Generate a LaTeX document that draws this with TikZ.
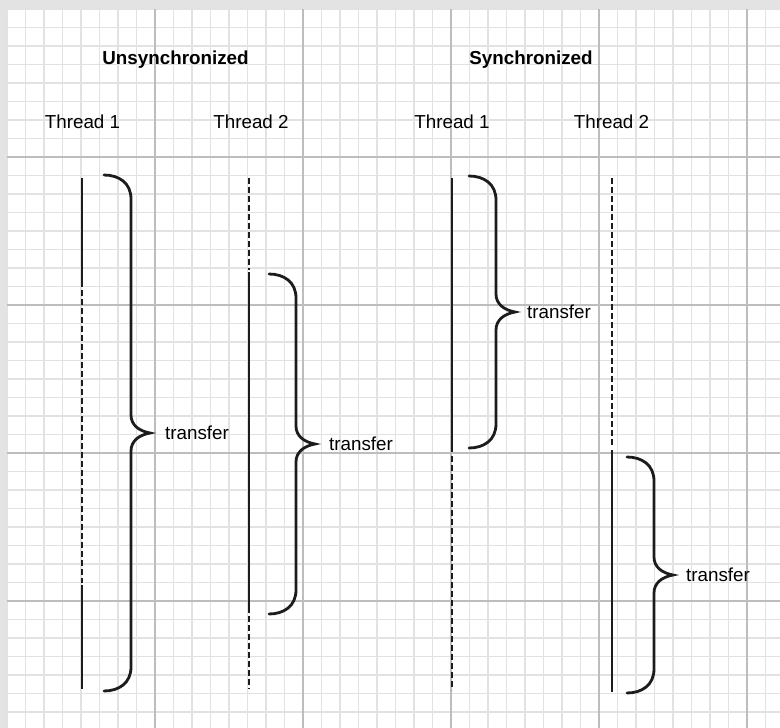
\documentclass[tikz,border=0pt]{standalone}
\usepackage{fontspec}
\setmainfont{Liberation Sans}
\usetikzlibrary{positioning}

\definecolor{minorgrid}{HTML}{E2E2E2}
\definecolor{majorgrid}{HTML}{BDBDBD}
\definecolor{ink}{HTML}{1C1C1C}

% #1 = x of the brace's spine, #2 = top, #3 = bottom, #4 = name of the tip
\newcommand{\xferbrace}[4]{%
  \draw[brace] ({#1-27},#2) .. controls ({#1-12},#2) and (#1,{#2+8}) .. (#1,{#2+24})
    -- (#1,{(#2+#3)/2-18}) .. controls (#1,{(#2+#3)/2-8}) and ({#1+8},{(#2+#3)/2-2}) .. ({#1+19},{(#2+#3)/2})
    .. controls ({#1+8},{(#2+#3)/2+2}) and (#1,{(#2+#3)/2+8}) .. (#1,{(#2+#3)/2+18})
    -- (#1,{#3-24}) .. controls (#1,{#3-8}) and ({#1-12},#3) .. ({#1-27},#3);
  \coordinate (#4) at ({#1+19},{(#2+#3)/2});
}

\begin{document}
\begin{tikzpicture}[
    x=1pt, y=-1pt,
    minorline/.style={draw=minorgrid, line width=1.6pt},
    majorline/.style={draw=majorgrid, line width=1.4pt},
    title/.style={font=\fontsize{18.8}{22}\selectfont\bfseries, inner sep=0pt, anchor=base},
    thread/.style={font=\fontsize{18.8}{22}\selectfont, inner sep=0pt, anchor=base},
    xfer/.style={font=\fontsize{18.8}{22}\selectfont, inner sep=0pt},
    run/.style={draw=ink, line width=2.4pt},
    wait/.style={draw=ink, line width=2.7pt, dash pattern=on 6pt off 3pt},
    brace/.style={draw=ink, line width=2.8pt, line cap=round},
]
    \useasboundingbox (0,0) rectangle (780,728);
    \fill[gray!22] (0,0) rectangle (780,728);
    \fill[white] (7,9) rectangle (780,728);
    \foreach \i in {0,...,41}
        \draw[minorline] ({7+18.5*\i},9) -- ({7+18.5*\i},728);
    \foreach \j in {0,...,38}
        \draw[minorline] (7,{9+18.5*\j}) -- (780,{9+18.5*\j});
    \foreach \i in {155,303,451,599,747}
        \draw[majorline] (\i,9) -- (\i,728);
    \foreach \j in {157,305,453,601}
        \draw[majorline] (7,\j) -- (780,\j);

    \node[title] (unsync) at (175.5,64) {Unsynchronized};
    \node[title] (sync) at (531,64) {Synchronized};
    \node[thread] (ua) at (82.5,128) {Thread 1};
    \node[thread] (ub) at (251,128) {Thread 2};
    \node[thread] (sa) at (452,128) {Thread 1};
    \node[thread] (sb) at (611.5,128) {Thread 2};

    \draw[run] (82,178) -- (82,287);
    \draw[wait] (82,290) -- (82,583);
    \draw[run] (82,585) -- (82,689);

    \draw[wait] (249,178) -- (249,270);
    \draw[run] (249,272) -- (249,613);
    \draw[wait] (249,616) -- (249,689);

    \draw[run] (452,178) -- (452,452);
    \draw[wait] (452,456) -- (452,690);

    \draw[wait] (612,178) -- (612,447);
    \draw[run] (612,450) -- (612,692);

    \xferbrace{131}{175}{691}{utipa}
    \xferbrace{296}{274}{614}{utipb}
    \xferbrace{496}{176}{448}{stipa}
    \xferbrace{654}{457}{693}{stipb}

    \node[xfer, right=15pt of utipa] (uxa) {transfer};
    \node[xfer, right=14pt of utipb] (uxb) {transfer};
    \node[xfer, right=12pt of stipa] (sxa) {transfer};
    \node[xfer, right=13pt of stipb] (sxb) {transfer};
\end{tikzpicture}
\end{document}
